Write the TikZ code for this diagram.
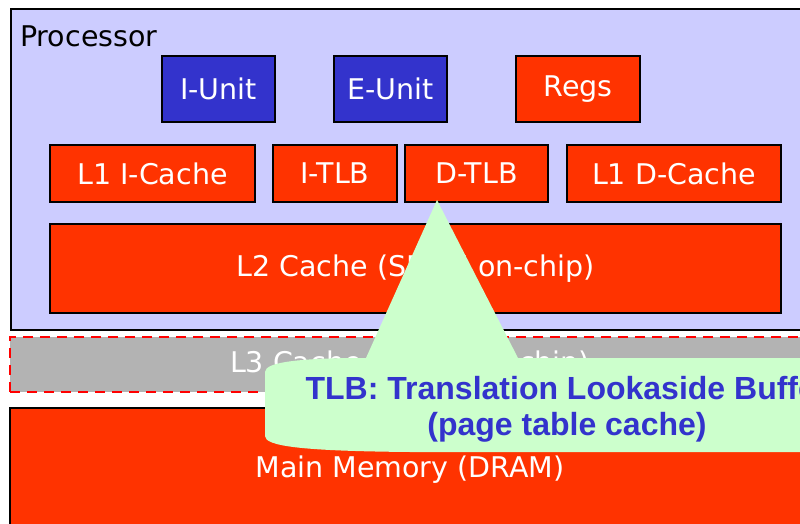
\documentclass[tikz,border=0pt]{standalone}
\usepackage{fontspec}
\setmainfont{DejaVu Sans}
\newfontfamily\notefamily{Liberation Sans}

\definecolor{proclav}{HTML}{CCCCFF}
\definecolor{unitblue}{HTML}{3333CC}
\definecolor{cachered}{HTML}{FF3300}
\definecolor{offgrey}{HTML}{B3B3B3}
\definecolor{notegreen}{HTML}{CCFFCC}

\newcommand{\boxfont}{\fontsize{28.5}{30}\selectfont}
\newcommand{\notefont}{\notefamily\bfseries\fontsize{32}{36}\selectfont}

\begin{document}
\begin{tikzpicture}[x=1pt, y=-1pt,
		hwbox/.style={draw=black, line width=2.5pt, text=white, font=\boxfont, inner sep=0pt},
		unitbox/.style={hwbox, fill=unitblue},
		cachebox/.style={hwbox, fill=cachered}]
		\useasboundingbox (0,0) rectangle (800,524);
		\clip (0,0) rectangle (800,524);
		\fill[white] (0,0) rectangle (800,524);

		% processor chip
		\node[draw=black, line width=2pt, fill=proclav, minimum width=800pt, minimum height=321pt, anchor=north west] (proc) at (10,8) {};
		\node[anchor=west, font=\boxfont, inner sep=0pt] (proclabel) at (20,36) {Processor};

		\node[unitbox, minimum width=113pt, minimum height=66pt] (iunit) at (218.5,89) {I-Unit};
		\node[unitbox, minimum width=113pt, minimum height=66pt] (eunit) at (390.5,89) {E-Unit};
		\node[cachebox, minimum width=124pt, minimum height=66pt] (regs) at (578,89) {Regs};

		\node[cachebox, minimum width=205pt, minimum height=57pt] (l1i) at (152.5,173.5) {L1 I-Cache};
		\node[cachebox, minimum width=124pt, minimum height=57pt] (itlb) at (335,173.5) {I-TLB};
		\node[cachebox, minimum width=143pt, minimum height=57pt] (dtlb) at (476.5,173.5) {D-TLB};
		\node[cachebox, minimum width=214pt, minimum height=57pt] (l1d) at (674,173.5) {L1 D-Cache};

		\node[cachebox, minimum width=731pt, minimum height=89pt] (l2) at (415.5,268.5) {L2 Cache (SRAM on-chip)};

		% off-chip levels
		\node[fill=offgrey, draw=red, line width=2.5pt, dash pattern=on 10pt off 7pt, text=white, font=\boxfont, minimum width=800pt, minimum height=55pt] (l3) at (410,364.5) {L3 Cache (SRAM off-chip)};
		\node[cachebox, minimum width=800pt, minimum height=124pt] (dram) at (410,470) {Main Memory (DRAM)};

		% callout on the D-TLB
		\coordinate (tip) at (437,200);
		\fill[notegreen] (tip) -- (518,358) -- (820,358) -- (820,452) -- (410,452)
			.. controls (300,451) and (265,446) .. (265,436) -- (265,372)
			.. controls (265,362) and (300,358) .. (366,358) -- cycle;
		\node[font=\notefont, text=unitblue, align=center, inner sep=0pt] (tlbnote) at (567,409) {TLB: Translation Lookaside Buffer\\(page table cache)};
	\end{tikzpicture}
\end{document}
